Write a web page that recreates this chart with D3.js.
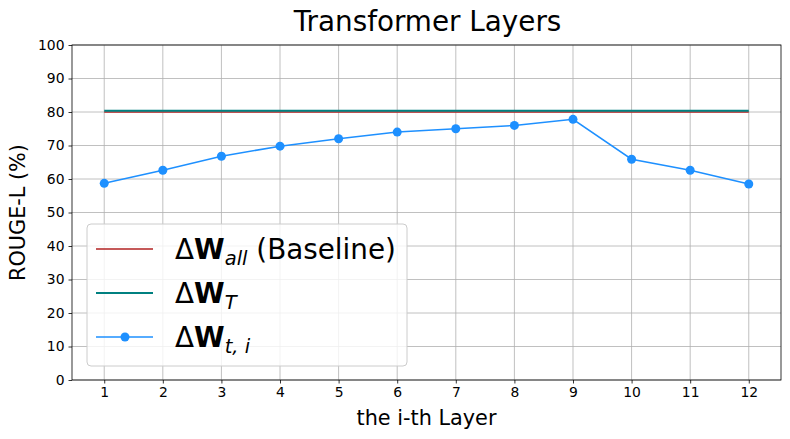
<!DOCTYPE html>
<html>
<head>
<meta charset="utf-8">
<script src="https://cdn.jsdelivr.net/npm/d3@7"></script>
<style>
body { margin: 0; background: #fff; }
text { font-family: "DejaVu Sans", sans-serif; }
</style>
</head>
<body>
<div id="chart-area"></div>
<script>
// data
const layers = [1, 2, 3, 4, 5, 6, 7, 8, 9, 10, 11, 12];
const layerScores = [58.7, 62.6, 66.8, 69.8, 72.0, 74.0, 75.0, 76.0, 77.8, 65.9, 62.6, 58.5];
const baselineScore = 80.0;
const totalScore = 80.4;
const yTicks = [0, 10, 20, 30, 40, 50, 60, 70, 80, 90, 100];

const width = 790, height = 439;
const margin = {left: 72, right: 9, top: 45, bottom: 59};

const svg = d3.select("#chart-area").append('svg')
                .attr("width", width)
                .attr("height", height);

const x = d3.scaleLinear().domain([0.45, 12.55]).range([margin.left, width - margin.right]);
const y = d3.scaleLinear().domain([0, 100]).range([height - margin.bottom, margin.top]);

// grid
svg.append('g').selectAll('line')
    .data(yTicks).enter()
        .append('line')
            .attr('x1', margin.left).attr('x2', width - margin.right)
            .attr('y1', d => y(d)).attr('y2', d => y(d))
            .attr('stroke', '#b0b0b0').attr('stroke-width', 0.8);
svg.append('g').selectAll('line')
    .data(layers).enter()
        .append('line')
            .attr('x1', d => x(d)).attr('x2', d => x(d))
            .attr('y1', margin.top).attr('y2', height - margin.bottom)
            .attr('stroke', '#b0b0b0').attr('stroke-width', 0.8);

// axes
const xAxis = svg.append('g')
    .attr('transform', `translate(0,${height - margin.bottom})`)
    .call(d3.axisBottom(x).tickValues(layers).tickSize(3.5).tickPadding(4));
const yAxis = svg.append('g')
    .attr('transform', `translate(${margin.left},0)`)
    .call(d3.axisLeft(y).tickValues(yTicks).tickSize(3.5).tickPadding(4));
[xAxis, yAxis].forEach(a => {
    a.selectAll('text').attr('font-size', 13.9).attr('font-family', 'DejaVu Sans').attr('fill', '#000');
    a.selectAll('.domain').remove();
    a.selectAll('.tick line').attr('stroke', '#000').attr('stroke-width', 0.8);
});

// frame
svg.append('rect')
    .attr('x', margin.left).attr('y', margin.top)
    .attr('width', width - margin.left - margin.right)
    .attr('height', height - margin.top - margin.bottom)
    .attr('fill', 'none').attr('stroke', '#000').attr('stroke-width', 0.8);

// lines
svg.append('line')
    .attr('x1', x(layers[0])).attr('x2', x(layers[layers.length - 1]))
    .attr('y1', y(baselineScore)).attr('y2', y(baselineScore))
    .attr('stroke', '#b22222').attr('stroke-width', 1.5);
svg.append('line')
    .attr('x1', x(layers[0])).attr('x2', x(layers[layers.length - 1]))
    .attr('y1', y(totalScore)).attr('y2', y(totalScore))
    .attr('stroke', '#008080').attr('stroke-width', 2);

const line = d3.line().x((d, i) => x(layers[i])).y(d => y(d));
svg.append('path')
    .datum(layerScores)
    .attr('d', line)
    .attr('fill', 'none').attr('stroke', '#1e90ff').attr('stroke-width', 1.5);
svg.append('g').selectAll('circle')
    .data(layerScores).enter()
        .append('circle')
            .attr('cx', (d, i) => x(layers[i]))
            .attr('cy', d => y(d))
            .attr('r', 4.5)
            .attr('fill', '#1e90ff');

// titles
svg.append('text').attr('x', (margin.left + width - margin.right) / 2 + 1).attr('y', 31)
    .attr('text-anchor', 'middle').attr('font-size', 27.8).text('Transformer Layers');
svg.append('text').attr('x', (margin.left + width - margin.right) / 2).attr('y', 425)
    .attr('text-anchor', 'middle').attr('font-size', 20.8).text('the i-th Layer');
svg.append('text').attr('transform', `translate(25,${(margin.top + height - margin.bottom) / 2}) rotate(-90)`)
    .attr('text-anchor', 'middle').attr('font-size', 20.8).text('ROUGE-L (%)');

// legend
const legend = svg.append('g');
legend.append('rect')
    .attr('x', 87).attr('y', 224).attr('width', 320).attr('height', 142).attr('rx', 4)
    .attr('fill', 'rgba(255,255,255,0.8)').attr('stroke', '#cccccc').attr('stroke-width', 1);

const legendItems = [
    {color: '#b22222', sub: 'all', tail: ' (Baseline)', marker: false},
    {color: '#008080', sub: 'T', tail: '', marker: false},
    {color: '#1e90ff', sub: 't, i', tail: '', marker: true}
];
legendItems.forEach((d, i) => {
    const ly = 249 + i * 44;
    legend.append('line').attr('x1', 96).attr('x2', 153).attr('y1', ly).attr('y2', ly)
        .attr('stroke', d.color).attr('stroke-width', i === 1 ? 2 : 1.5);
    if (d.marker) legend.append('circle').attr('cx', 125).attr('cy', ly).attr('r', 4.5).attr('fill', d.color);
    const t = legend.append('text').attr('x', 175).attr('y', ly + 10).attr('font-size', 27.8);
    t.append('tspan').text('Δ');
    t.append('tspan').attr('font-weight', 'bold').text('W');
    t.append('tspan').attr('font-style', 'italic').attr('font-size', 19.5).attr('dy', 6).text(d.sub);
    if (d.tail) t.append('tspan').attr('dy', -6).text(d.tail);
});
</script>
</body>
</html>
